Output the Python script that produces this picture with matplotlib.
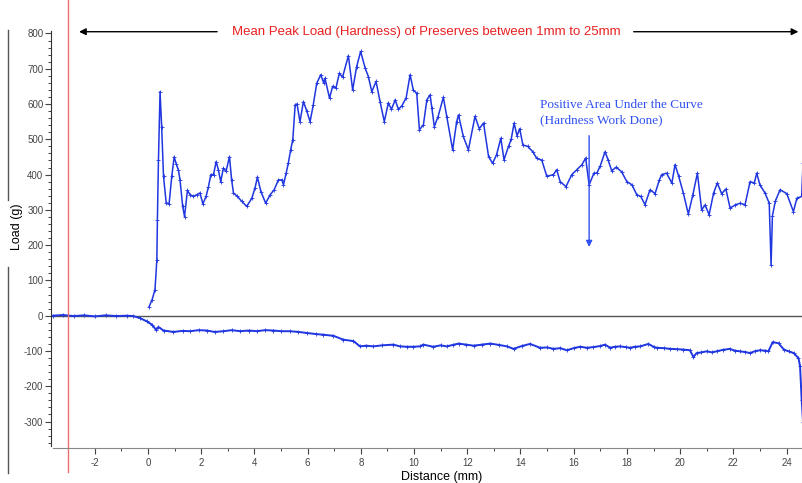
import matplotlib
matplotlib.use('Agg')
import matplotlib.pyplot as plt
from matplotlib.ticker import MultipleLocator
import matplotlib.transforms as mtransforms

# compression run (positive load)
upper_x = [0.04, 0.15, 0.26, 0.33, 0.35, 0.39, 0.45, 0.51, 0.58, 0.68, 0.79, 0.89, 0.98, 1.06, 1.14,
           1.2, 1.3, 1.37, 1.48, 1.58, 1.70, 1.83, 1.95, 2.06, 2.18, 2.27, 2.36, 2.46, 2.56, 2.64,
           2.73, 2.83, 2.93, 3.06, 3.14, 3.21, 3.36, 3.52, 3.71, 3.90, 4.02, 4.11, 4.24, 4.42, 4.59,
           4.74, 4.90, 5.03, 5.09, 5.19, 5.27, 5.36, 5.44, 5.53, 5.60, 5.71, 5.84, 5.97, 6.09, 6.21,
           6.34, 6.49, 6.60, 6.65, 6.82, 6.94, 7.06, 7.19, 7.31, 7.53, 7.69, 7.84, 7.99, 8.16, 8.28,
           8.41, 8.57, 8.72, 8.88, 9.03, 9.15, 9.29, 9.41, 9.54, 9.70, 9.85, 9.97, 10.10, 10.20, 10.35,
           10.48, 10.60, 10.67, 10.76, 10.90, 11.10, 11.23, 11.45, 11.60, 11.67, 11.85, 12.04, 12.29,
           12.45, 12.61, 12.80, 12.95, 13.10, 13.26, 13.38, 13.55, 13.65, 13.76, 13.87, 13.97, 14.09,
           14.27, 14.46, 14.61, 14.80, 14.99, 15.24, 15.36, 15.49, 15.71, 15.93, 16.12, 16.31, 16.45,
           16.58, 16.76, 16.87, 17.00, 17.18, 17.30, 17.43, 17.60, 17.80, 18.00, 18.19, 18.37, 18.52,
           18.68, 18.87, 19.06, 19.22, 19.31, 19.49, 19.69, 19.81, 19.94, 20.12, 20.31, 20.48, 20.65,
           20.81, 20.94, 21.09, 21.26, 21.40, 21.56, 21.72, 21.88, 22.07, 22.26, 22.44, 22.63, 22.79,
           22.88, 23.00, 23.19, 23.35, 23.42, 23.47, 23.58, 23.76, 24.01, 24.26, 24.39, 24.57, 24.62]
upper_y = [26, 45, 74, 159, 272, 442, 635, 536, 395, 320, 317, 395, 450, 430, 413,
           385, 310, 281, 355, 343, 338, 343, 348, 317, 338, 366, 400, 400, 437, 414,
           380, 418, 409, 451, 385, 348, 338, 324, 310, 333, 362, 393, 352, 319, 343,
           357, 385, 385, 371, 404, 432, 470, 499, 598, 600, 550, 607, 579, 550, 598,
           659, 683, 660, 673, 617, 650, 645, 687, 676, 737, 640, 706, 749, 702, 678,
           635, 664, 607, 550, 603, 585, 612, 585, 595, 617, 683, 640, 630, 527, 541,
           612, 626, 588, 536, 564, 619, 564, 470, 550, 569, 508, 470, 565,
           530, 546, 451, 432, 456, 503, 442, 480, 500, 546, 510, 530, 484,
           480, 465, 446, 441, 395, 400, 414, 380, 366, 400, 414, 428, 447,
           371, 404, 404, 425, 465, 440, 411, 421, 408, 380, 371, 343, 338,
           315, 357, 346, 385, 400, 404, 376, 428, 397, 348, 288, 343, 404,
           300, 314, 286, 348, 376, 346, 359, 305, 314, 319, 314, 380, 376,
           404, 371, 348, 319, 144, 283, 325, 357, 346, 295, 333, 338, 432]

# withdrawal run (negative load)
lower_x = [-3.57, -3.2, -2.8, -2.4, -2.0, -1.6, -1.2, -0.8, -0.56, -0.3, -0.05, 0.14, 0.3, 0.39,
           0.58, 0.95, 1.3, 1.58, 1.9, 2.2, 2.5, 2.83, 3.15, 3.46, 3.8, 4.08, 4.4, 4.71, 5.0, 5.34,
           5.65, 5.97, 6.3, 6.59, 6.97, 7.34, 7.72, 7.97, 8.2, 8.47, 8.8, 9.22, 9.47, 9.72, 9.97,
           10.22, 10.35, 10.72, 11.0, 11.22, 11.45, 11.67, 11.95, 12.24, 12.55, 12.86, 13.2, 13.49,
           13.74, 14.05, 14.36, 14.74, 15.0, 15.24, 15.5, 15.74, 16.0, 16.24, 16.5, 16.74, 17.0,
           17.18, 17.37, 17.55, 17.74, 17.95, 18.12, 18.3, 18.5, 18.81, 19.0, 19.12, 19.4, 19.62,
           19.9, 20.12, 20.37, 20.5, 20.62, 20.8, 21.0, 21.2, 21.37, 21.6, 21.87, 22.05, 22.25,
           22.45, 22.63, 22.8, 23.0, 23.2, 23.32, 23.48, 23.7, 23.9, 24.08, 24.27, 24.45, 24.51,
           24.57, 24.62]
lower_y = [0, 2, -1, 1, -2, 1, -1, 0, -1, -7, -16, -25, -40, -32,
           -42, -46, -43, -44, -41, -42, -46, -44, -41, -44, -42, -44, -41, -42, -44, -44,
           -46, -49, -52, -54, -57, -68, -72, -87, -85, -87, -84, -82, -87, -88, -88,
           -87, -82, -88, -84, -87, -83, -79, -82, -85, -82, -79, -83, -87,
           -94, -86, -80, -91, -90, -94, -92, -98, -92, -88, -91, -89, -86,
           -82, -91, -88, -87, -89, -91, -88, -87, -80, -88, -91, -92, -94,
           -95, -96, -98, -117, -106, -104, -101, -104, -101, -97, -94, -99, -101,
           -103, -106, -101, -98, -99, -101, -75, -78, -96, -101, -106, -120, -144,
           -238, -300]

title_text = "Mean Peak Load (Hardness) of Preserves between 1mm to 25mm"
note_text = "Positive Area Under the Curve\n(Hardness Work Done)"

line_blue = '#1f36e0'
plt.rcParams['font.family'] = ['Liberation Sans', 'DejaVu Sans']
plt.rcParams['axes.unicode_minus'] = False

fig = plt.figure(figsize=(8.03, 4.83), dpi=100)
ax = fig.add_axes([0.0635, 0.0725, 0.9365, 0.8655])

ax.plot(upper_x, upper_y, color=line_blue, lw=1.1, marker='+', ms=2.5, mew=0.6)
ax.plot(lower_x, lower_y, color=line_blue, lw=1.4, marker='+', ms=2.5, mew=0.6)

ax.set_xlim(-3.65, 24.62)
ax.set_ylim(-375, 810)
ax.axhline(0, color='#555555', lw=1, zorder=1)

# red start marker, runs past the plot area
trans = mtransforms.blended_transform_factory(ax.transData, ax.transAxes)
ax.plot([-3, -3], [-0.057, 1.08], transform=trans, color='#ee7070', lw=1, clip_on=False)

for side in ['top', 'right']:
    ax.spines[side].set_visible(False)
ax.spines['left'].set_bounds(-368, 806)
ax.spines['bottom'].set_bounds(-3.57, 24.62)
ax.spines['left'].set_color('#333333')
ax.spines['bottom'].set_color('#888888')

ax.xaxis.set_major_locator(MultipleLocator(2))
ax.xaxis.set_minor_locator(MultipleLocator(1))
ax.yaxis.set_major_locator(MultipleLocator(100))
ax.yaxis.set_minor_locator(MultipleLocator(20))
ax.tick_params(which='major', length=4, width=0.8, labelsize=7, colors='#444444')
ax.tick_params(which='minor', length=2, width=0.7, colors='#444444')
ax.tick_params(axis='y', which='major', pad=1.5)
ax.set_yticks(range(-300, 801, 100))

ax.set_xlabel("Distance (mm)", fontsize=9)
ax.xaxis.set_label_coords(0.52, -0.055)
ax.set_ylabel("Load (g)", fontsize=9)
ax.yaxis.set_label_coords(-0.037, 0.53)

# double arrow across the top with the title in its gap
ax.annotate('', xy=(-2.7, 805), xytext=(2.7, 805), annotation_clip=False,
            arrowprops=dict(arrowstyle='-|>', color='black', lw=1, mutation_scale=10))
ax.annotate('', xy=(24.55, 805), xytext=(18.15, 805), annotation_clip=False,
            arrowprops=dict(arrowstyle='-|>', color='black', lw=1, mutation_scale=10))
ax.text(10.45, 805, title_text, color='#e82020', fontsize=9.5, ha='center', va='center')

ax.text(14.74, 575, note_text, color='#3050f0', fontsize=9.5, family='Liberation Serif',
        ha='left', va='center', linespacing=1.35)
ax.annotate('', xy=(16.58, 187), xytext=(16.58, 518),
            arrowprops=dict(arrowstyle='-|>', color='#3050f0', lw=1, mutation_scale=9))

# stray page rules at the far left of the scan
fig.add_artist(plt.Line2D([8 / 803, 8 / 803], [1 - 30 / 483, 1 - 200 / 483], color='#555555', lw=1))
fig.add_artist(plt.Line2D([8 / 803, 8 / 803], [1 - 267 / 483, 1 - 473 / 483], color='#555555', lw=1))

fig.savefig('out.png', dpi=100)
